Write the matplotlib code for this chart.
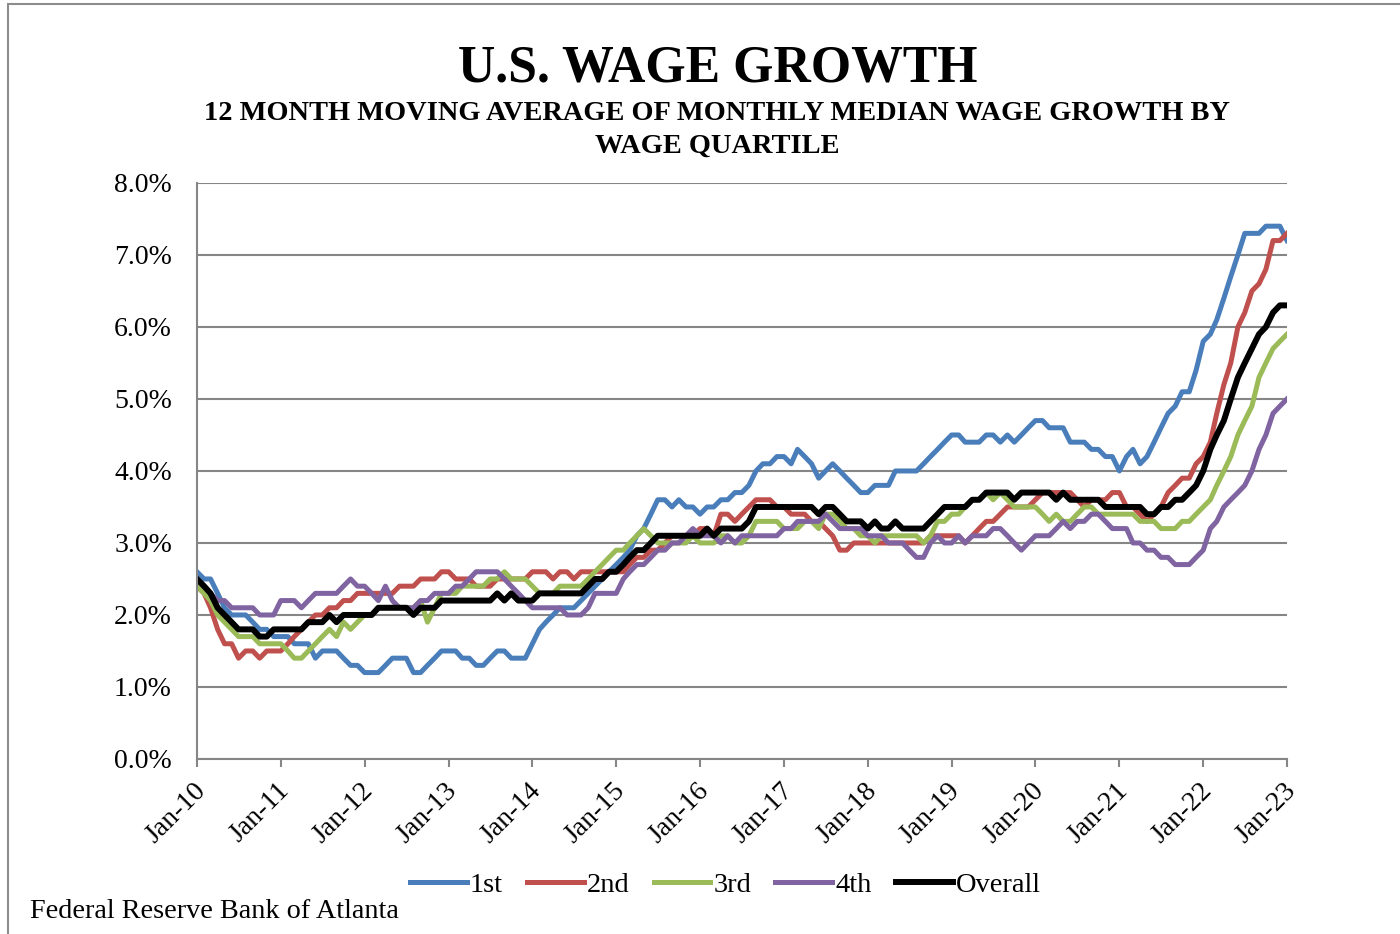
import matplotlib
matplotlib.use('Agg')
import matplotlib.pyplot as plt
import matplotlib.transforms as mtransforms
import pandas as pd
from matplotlib.patches import Rectangle

# monthly 12-month moving average of median wage growth (%), Jan 2010 - Jan 2023
first = [
    2.6, 2.5, 2.5, 2.3, 2.1, 2.0, 2.0, 2.0, 1.9, 1.8, 1.8, 1.7,  # 2010
    1.7, 1.7, 1.6, 1.6, 1.6, 1.4, 1.5, 1.5, 1.5, 1.4, 1.3, 1.3,  # 2011
    1.2, 1.2, 1.2, 1.3, 1.4, 1.4, 1.4, 1.2, 1.2, 1.3, 1.4, 1.5,  # 2012
    1.5, 1.5, 1.4, 1.4, 1.3, 1.3, 1.4, 1.5, 1.5, 1.4, 1.4, 1.4,  # 2013
    1.6, 1.8, 1.9, 2.0, 2.1, 2.1, 2.1, 2.2, 2.3, 2.4, 2.5, 2.6,  # 2014
    2.7, 2.8, 2.9, 3.1, 3.2, 3.4, 3.6, 3.6, 3.5, 3.6, 3.5, 3.5,  # 2015
    3.4, 3.5, 3.5, 3.6, 3.6, 3.7, 3.7, 3.8, 4.0, 4.1, 4.1, 4.2,  # 2016
    4.2, 4.1, 4.3, 4.2, 4.1, 3.9, 4.0, 4.1, 4.0, 3.9, 3.8, 3.7,  # 2017
    3.7, 3.8, 3.8, 3.8, 4.0, 4.0, 4.0, 4.0, 4.1, 4.2, 4.3, 4.4,  # 2018
    4.5, 4.5, 4.4, 4.4, 4.4, 4.5, 4.5, 4.4, 4.5, 4.4, 4.5, 4.6,  # 2019
    4.7, 4.7, 4.6, 4.6, 4.6, 4.4, 4.4, 4.4, 4.3, 4.3, 4.2, 4.2,  # 2020
    4.0, 4.2, 4.3, 4.1, 4.2, 4.4, 4.6, 4.8, 4.9, 5.1, 5.1, 5.4,  # 2021
    5.8, 5.9, 6.1, 6.4, 6.7, 7.0, 7.3, 7.3, 7.3, 7.4, 7.4, 7.4,  # 2022
    7.2]
second = [
    2.4, 2.3, 2.1, 1.8, 1.6, 1.6, 1.4, 1.5, 1.5, 1.4, 1.5, 1.5,
    1.5, 1.6, 1.7, 1.8, 1.9, 2.0, 2.0, 2.1, 2.1, 2.2, 2.2, 2.3,
    2.3, 2.3, 2.3, 2.3, 2.3, 2.4, 2.4, 2.4, 2.5, 2.5, 2.5, 2.6,
    2.6, 2.5, 2.5, 2.5, 2.4, 2.4, 2.4, 2.5, 2.5, 2.5, 2.5, 2.5,
    2.6, 2.6, 2.6, 2.5, 2.6, 2.6, 2.5, 2.6, 2.6, 2.6, 2.6, 2.6,
    2.6, 2.6, 2.7, 2.8, 2.8, 2.9, 2.9, 3.0, 3.1, 3.1, 3.1, 3.1,
    3.2, 3.2, 3.1, 3.4, 3.4, 3.3, 3.4, 3.5, 3.6, 3.6, 3.6, 3.5,
    3.5, 3.4, 3.4, 3.4, 3.3, 3.3, 3.2, 3.1, 2.9, 2.9, 3.0, 3.0,
    3.0, 3.0, 3.0, 3.0, 3.0, 3.0, 3.0, 3.0, 3.0, 3.1, 3.1, 3.1,
    3.1, 3.1, 3.0, 3.1, 3.2, 3.3, 3.3, 3.4, 3.5, 3.5, 3.5, 3.5,
    3.6, 3.7, 3.7, 3.7, 3.7, 3.7, 3.6, 3.5, 3.6, 3.6, 3.6, 3.7,
    3.7, 3.5, 3.5, 3.4, 3.3, 3.4, 3.5, 3.7, 3.8, 3.9, 3.9, 4.1,
    4.2, 4.4, 4.8, 5.2, 5.5, 6.0, 6.2, 6.5, 6.6, 6.8, 7.2, 7.2,
    7.3]
third = [
    2.4, 2.3, 2.2, 2.0, 1.9, 1.8, 1.7, 1.7, 1.7, 1.6, 1.6, 1.6,
    1.6, 1.5, 1.4, 1.4, 1.5, 1.6, 1.7, 1.8, 1.7, 1.9, 1.8, 1.9,
    2.0, 2.0, 2.1, 2.1, 2.1, 2.1, 2.1, 2.1, 2.2, 1.9, 2.1, 2.3,
    2.3, 2.3, 2.4, 2.4, 2.4, 2.4, 2.5, 2.5, 2.6, 2.5, 2.5, 2.5,
    2.4, 2.3, 2.3, 2.3, 2.4, 2.4, 2.4, 2.4, 2.5, 2.6, 2.7, 2.8,
    2.9, 2.9, 3.0, 3.1, 3.2, 3.1, 3.0, 3.0, 3.0, 3.0, 3.0, 3.1,
    3.0, 3.0, 3.0, 3.1, 3.1, 3.0, 3.0, 3.1, 3.3, 3.3, 3.3, 3.3,
    3.2, 3.2, 3.2, 3.3, 3.3, 3.2, 3.4, 3.4, 3.3, 3.2, 3.2, 3.1,
    3.1, 3.0, 3.1, 3.1, 3.1, 3.1, 3.1, 3.1, 3.0, 3.1, 3.3, 3.3,
    3.4, 3.4, 3.5, 3.6, 3.6, 3.7, 3.6, 3.7, 3.6, 3.5, 3.5, 3.5,
    3.5, 3.4, 3.3, 3.4, 3.3, 3.3, 3.4, 3.5, 3.5, 3.4, 3.4, 3.4,
    3.4, 3.4, 3.4, 3.3, 3.3, 3.3, 3.2, 3.2, 3.2, 3.3, 3.3, 3.4,
    3.5, 3.6, 3.8, 4.0, 4.2, 4.5, 4.7, 4.9, 5.3, 5.5, 5.7, 5.8,
    5.9]
fourth = [
    2.5, 2.4, 2.3, 2.2, 2.2, 2.1, 2.1, 2.1, 2.1, 2.0, 2.0, 2.0,
    2.2, 2.2, 2.2, 2.1, 2.2, 2.3, 2.3, 2.3, 2.3, 2.4, 2.5, 2.4,
    2.4, 2.3, 2.2, 2.4, 2.2, 2.1, 2.1, 2.1, 2.2, 2.2, 2.3, 2.3,
    2.3, 2.4, 2.4, 2.5, 2.6, 2.6, 2.6, 2.6, 2.5, 2.4, 2.3, 2.2,
    2.1, 2.1, 2.1, 2.1, 2.1, 2.0, 2.0, 2.0, 2.1, 2.3, 2.3, 2.3,
    2.3, 2.5, 2.6, 2.7, 2.7, 2.8, 2.9, 2.9, 3.0, 3.0, 3.1, 3.2,
    3.1, 3.1, 3.1, 3.0, 3.1, 3.0, 3.1, 3.1, 3.1, 3.1, 3.1, 3.1,
    3.2, 3.2, 3.3, 3.3, 3.3, 3.3, 3.4, 3.3, 3.2, 3.2, 3.2, 3.2,
    3.1, 3.1, 3.1, 3.0, 3.0, 3.0, 2.9, 2.8, 2.8, 3.0, 3.1, 3.0,
    3.0, 3.1, 3.0, 3.1, 3.1, 3.1, 3.2, 3.2, 3.1, 3.0, 2.9, 3.0,
    3.1, 3.1, 3.1, 3.2, 3.3, 3.2, 3.3, 3.3, 3.4, 3.4, 3.3, 3.2,
    3.2, 3.2, 3.0, 3.0, 2.9, 2.9, 2.8, 2.8, 2.7, 2.7, 2.7, 2.8,
    2.9, 3.2, 3.3, 3.5, 3.6, 3.7, 3.8, 4.0, 4.3, 4.5, 4.8, 4.9,
    5.0]
overall = [
    2.5, 2.4, 2.3, 2.1, 2.0, 1.9, 1.8, 1.8, 1.8, 1.7, 1.7, 1.8,
    1.8, 1.8, 1.8, 1.8, 1.9, 1.9, 1.9, 2.0, 1.9, 2.0, 2.0, 2.0,
    2.0, 2.0, 2.1, 2.1, 2.1, 2.1, 2.1, 2.0, 2.1, 2.1, 2.1, 2.2,
    2.2, 2.2, 2.2, 2.2, 2.2, 2.2, 2.2, 2.3, 2.2, 2.3, 2.2, 2.2,
    2.2, 2.3, 2.3, 2.3, 2.3, 2.3, 2.3, 2.3, 2.4, 2.5, 2.5, 2.6,
    2.6, 2.7, 2.8, 2.9, 2.9, 3.0, 3.1, 3.1, 3.1, 3.1, 3.1, 3.1,
    3.1, 3.2, 3.1, 3.2, 3.2, 3.2, 3.2, 3.3, 3.5, 3.5, 3.5, 3.5,
    3.5, 3.5, 3.5, 3.5, 3.5, 3.4, 3.5, 3.5, 3.4, 3.3, 3.3, 3.3,
    3.2, 3.3, 3.2, 3.2, 3.3, 3.2, 3.2, 3.2, 3.2, 3.3, 3.4, 3.5,
    3.5, 3.5, 3.5, 3.6, 3.6, 3.7, 3.7, 3.7, 3.7, 3.6, 3.7, 3.7,
    3.7, 3.7, 3.7, 3.6, 3.7, 3.6, 3.6, 3.6, 3.6, 3.6, 3.5, 3.5,
    3.5, 3.5, 3.5, 3.5, 3.4, 3.4, 3.5, 3.5, 3.6, 3.6, 3.7, 3.8,
    4.0, 4.3, 4.5, 4.7, 5.0, 5.3, 5.5, 5.7, 5.9, 6.0, 6.2, 6.3,
    6.3]

labels = ['1st', '2nd', '3rd', '4th', 'Overall']
colors = ['#4A7EBB', '#C0504D', '#9BBB59', '#8064A2', '#000000']

plt.rcParams['font.family'] = ['Liberation Serif', 'DejaVu Serif']

months = pd.date_range('2010-01-01', '2023-01-01', freq='MS')
years = pd.date_range('2010-01-01', '2023-01-01', freq='YS')

fig = plt.figure(figsize=(14, 9.34), dpi=100)
ax = fig.add_axes([0.1407, 0.1874, 0.7786, 0.6167])

for vals, lab, col in zip([first, second, third, fourth, overall], labels, colors):
    lw = 4.3 if lab == 'Overall' else 3.6
    ax.plot(months, vals, color=col, lw=lw, label=lab, solid_joinstyle='round')

ax.set_ylim(0, 8)
ax.set_yticks(range(0, 9))
ax.yaxis.set_major_formatter(lambda v, p: f'{v:.1f}%')
ax.set_xlim(months[0], months[-1])
ax.set_xticks(years)
ax.set_xticklabels([d.strftime('Jan-%y') for d in years])

ax.grid(axis='y', color='#868686', lw=1.5)
ax.set_axisbelow(True)
for s in ['top', 'right']:
    ax.spines[s].set_visible(False)
for s in ['left', 'bottom']:
    ax.spines[s].set_color('#868686')
    ax.spines[s].set_linewidth(1.5)

ax.tick_params(axis='y', length=0, pad=18, labelsize=20)
ax.tick_params(axis='x', length=6, width=1.5, color='#868686', labelsize=20, pad=14)
shift = mtransforms.ScaledTranslation(5 / 100, 0, fig.dpi_scale_trans)
for lbl in ax.get_xticklabels():
    lbl.set_rotation(45)
    lbl.set_ha('right')
    lbl.set_va('center')
    lbl.set_rotation_mode('anchor')
    lbl.set_transform(lbl.get_transform() + shift)

fig.text(0.5125, 1 - 68 / 934, 'U.S. WAGE GROWTH', ha='center', va='center',
         fontsize=37.3, weight='bold')
fig.text(0.512, 1 - 113 / 934, '12 MONTH MOVING AVERAGE OF MONTHLY MEDIAN WAGE GROWTH BY',
         ha='center', va='center', fontsize=20.4, weight='bold')
fig.text(0.512, 1 - 146 / 934, 'WAGE QUARTILE', ha='center', va='center',
         fontsize=20.4, weight='bold')

fig.legend(ncol=5, loc='center', bbox_to_anchor=(0.518, 1 - 885 / 934), frameon=False,
           fontsize=20.5, handlelength=2.0, handletextpad=0.1, columnspacing=0.85)

fig.text(30 / 1400, 1 - 911 / 934, 'Federal Reserve Bank of Atlanta', ha='left', va='center',
         fontsize=20.3)

fig.add_artist(Rectangle((0.006, -0.05), 1.0, 1.046, transform=fig.transFigure,
                         fill=False, ec='#8c8c8c', lw=1.5))

fig.savefig('out.png', dpi=100)
